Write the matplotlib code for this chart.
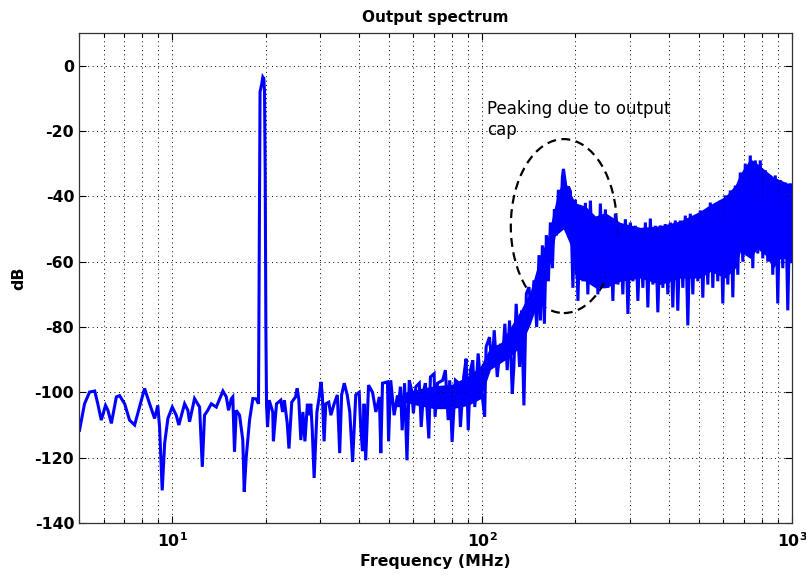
import matplotlib
matplotlib.use("Agg")
import matplotlib.pyplot as plt
from matplotlib.patches import Ellipse

plt.rcParams['font.family'] = ['DejaVu Sans']
plt.rcParams['axes.unicode_minus'] = False

# ---- trace (MHz, dB) ----
# smooth part below the 20 MHz tone
low_mhz = [5.02, 5.21, 5.41, 5.62, 5.75, 5.90, 6.09, 6.20, 6.36, 6.60, 6.76, 7.02,
           7.28, 7.56, 7.84, 8.14, 8.45, 8.77, 8.98, 9.10, 9.28, 9.45, 9.68, 10.0,
           10.30, 10.50, 10.96, 11.23, 11.37, 11.80, 12.25, 12.50, 12.71, 13.02, 13.36,
           13.87, 14.57, 14.94, 15.19, 15.50, 15.68, 15.88, 16.09, 16.49, 16.89, 17.07,
           17.33, 17.76, 18.20, 18.66, 18.98]
low_db = [-111.6, -103.5, -99.9, -99.6, -103.5, -108.5, -104, -105.5, -109.5, -101.4,
          -101, -103.5, -108.5, -110, -104.5, -98.8, -103.5, -108, -104, -110.6, -130,
          -115.6, -108, -104.5, -107, -110, -103.5, -105.5, -109, -101.9, -104.5, -122.8,
          -107, -105.5, -103.5, -104.5, -99.6, -101.4, -105.5, -102, -101.4, -118.2,
          -105.5, -107, -114.6, -130.4, -119.7, -108.5, -101.9, -102, -103.5]

# the tone at 20 MHz
tone_mhz = [19.15, 19.2, 19.45, 19.6, 19.75, 19.85, 19.95, 20.05, 20.15]
tone_db = [-33, -8, -5.5, -3.5, -4, -8, -33, -80, -104]

# noisy floor and rise up to the peaking
mid_mhz = [20.30, 20.55, 21.1, 21.2, 21.7, 22.4, 22.7, 23.0, 23.5, 23.8, 24.3, 25.0,
           25.3, 25.6, 26.0, 26.4, 26.8, 27.3, 27.6, 28.0, 28.3, 28.7, 29.3, 29.8, 30.2,
           30.5, 30.9, 31.3, 32.0, 32.5, 33.3, 34.1, 34.7, 35.2, 35.9, 36.7, 37.4, 38.2,
           39.1, 40.1, 40.6, 41.1, 41.6, 42.1, 43.0, 44.3, 45.4, 46.6, 47.1, 47.7, 49.5,
           49.9, 50.7, 52.0, 53.3, 53.6, 54.5, 55.2, 56.2, 57.2, 58.2, 59.3, 60.0, 61.1,
           62.7, 63.6, 64.7, 65.6, 67.3, 68.1, 70.0, 70.5, 71.8, 74.6, 76.1, 77.7, 78.6,
           80.0, 82.0, 84.1, 85.1, 87.2, 88.8, 90.2, 91.7, 93.3, 94.7, 97.1, 98.7, 100.4,
           101.9, 103.0, 105.6, 107.8, 109.4, 111.9, 114.6, 116.6, 118.4, 120.5, 122.6,
           125.1, 126.6, 128.8, 132.1, 134.1, 136.4, 138.9, 141.6, 144.5, 147.0, 150.0,
           152.6, 154.2, 156.5, 158.8, 161.2, 163.6, 166.1, 168.6, 171.1, 173.7, 176.3,
           178.9, 181.6, 183.0, 185.7, 187.1, 189.9]
mid_db = [-110.6, -102.4, -106, -115, -103.5, -102.4, -106, -102.4, -109.5, -117.2,
          -103, -101.4, -98.8, -102, -114.6, -106, -115, -103.5, -107, -103.5, -111.6,
          -126.2, -106, -101.4, -96.8, -100.8, -115, -103.5, -103, -107, -103.5, -100.8,
          -118.6, -100.8, -97.2, -100.8, -106, -121.3, -100.8, -100, -111, -118, -103.5,
          -120.8, -97.8, -100, -106, -101.4, -118.6, -97.2, -96.8, -115, -96.3, -107,
          -101, -104.5, -98.3, -111.6, -97.2, -120.8, -96.3, -99.6, -106.4, -98.3, -97.2,
          -110.6, -99.6, -97.2, -114.1, -95.3, -94.3, -107.5, -97.2, -96.3, -93.2, -108.5,
          -96.3, -115.2, -96.3, -97.2, -110.6, -95.3, -89.7, -111.6, -93.2, -90.2, -104.5,
          -88.1, -96.3, -102.4, -107.5, -86.1, -83.1, -92.2, -81, -95.3, -85.1, -89.2, -79,
          -93.2, -78, -100.4, -92.2, -72.9, -92.2, -74.9, -104, -69.8, -67.8, -75.9, -65.7,
          -80, -58, -78, -55, -79, -52, -66, -48, -62, -44, -52, -38, -50, -34, -31.6,
          -36, -50, -37]

# dense part above 190 MHz: top and bottom strokes alternate
hi_mhz = [192.7, 200.0, 207.6, 215.4, 223.6, 232.0, 240.8, 249.9, 259.3, 269.2, 279.3,
          290.0, 300.9, 312.3, 324.1, 336.4, 349.1, 362.3, 376.0, 390.2, 404.9, 420.2,
          436.2, 452.7, 469.8, 487.6, 506.0, 525.2, 545.1, 565.6, 587.1, 609.3, 632.4,
          656.3, 681.1, 706.9, 733.6, 761.3, 790.1, 820.1, 851.1, 883.3, 916.7, 951.4, 987.4]
hi_db = [-38.5, -41, -43.4, -42, -41.3, -47, -42.2, -44, -46.5, -45.3, -48.3, -47, -48,
         -49, -50.4, -48, -46.8, -49, -48.9, -48.5, -48, -47.4, -47.4, -45.9, -45.3, -46,
         -44.3, -44.5, -41.9, -42.5, -41.3, -39.7, -38.2, -36.7, -32.7, -30, -27.5, -29,
         -29, -32, -33.6, -33.6, -35, -35.8, -36.1]
lo_mhz = [196.3, 203.8, 211.5, 219.4, 227.8, 236.4, 245.3, 254.6, 264.2, 274.3, 284.5,
          295.5, 306.6, 318.2, 330.2, 342.7, 355.7, 369.1, 383.1, 397.5, 412.5, 428.1,
          444.4, 461.2, 478.6, 496.8, 515.5, 535.1, 555.3, 576.2, 598.1, 620.8, 644.3,
          668.6, 693.9, 720.2, 747.4, 775.6, 805.0, 835.5, 867.1, 899.9, 933.9, 969.3, 994.8]
lo_db = [-68, -72, -66, -70, -65, -70, -66, -68, -72, -67, -70, -76, -66, -72, -68, -74,
         -67, -75.5, -68, -70, -74, -75, -68, -79.5, -70, -66, -71, -67, -68, -66, -72.8,
         -67, -70.9, -64, -60, -58, -62, -57.5, -59, -60, -64, -72.8, -62, -74.9, -60]

# solid core of the noise band
band_mhz = [56.0, 62.0, 70.0, 80.0, 90.0, 98.7, 106.4, 114.6, 123.4, 132.9, 143.2,
            154.2, 162.4, 172.4, 183.0, 192.7, 200.0, 215.4, 232.0, 249.9, 279.3, 324.1,
            376.0, 436.2, 506.0, 545.1, 609.3, 656.3, 681.1, 733.6, 773.0, 820.1, 870.0,
            916.7, 1000.0]
band_hi_db = [-100, -99, -98, -97.5, -95, -92, -86, -85, -80, -75, -69, -58, -53, -42,
              -34, -39, -42, -43, -46, -45, -48, -49.5, -49, -47.5, -44.5, -42.5, -40,
              -36.5, -33, -28.5, -30, -32, -34, -35, -36.5]
band_lo_db = [-103, -104, -105, -105, -104, -102, -93, -91, -89, -86, -79, -70, -64,
              -52, -50, -55, -65, -66, -68, -68, -66, -65, -67, -65, -65, -63, -65, -62,
              -57, -59, -56, -58, -62, -59, -59]

x_ticks = [10, 100, 1000]
x_tick_labels = [r'$\mathbf{10^{1}}$', r'$\mathbf{10^{2}}$', r'$\mathbf{10^{3}}$']
y_ticks = [-140, -120, -100, -80, -60, -40, -20, 0]

dense_mhz = []
dense_db = []
for i in range(len(hi_mhz)):
    dense_mhz += [hi_mhz[i], lo_mhz[i]]
    dense_db += [hi_db[i], lo_db[i]]

freq_mhz = low_mhz + tone_mhz + mid_mhz + dense_mhz
level_db = low_db + tone_db + mid_db + dense_db

fig = plt.figure(figsize=(8.06, 5.75), dpi=100)
ax = fig.add_axes([0.098, 0.0904, 0.8846, 0.8522])

blue = (0, 0, 1)
ax.fill_between(band_mhz, band_lo_db, band_hi_db, color=blue, linewidth=0)
ax.plot(freq_mhz, level_db, color=blue, linewidth=2.2, solid_joinstyle='miter')

ax.set_xscale('log')
ax.set_xlim(5, 1000)
ax.set_ylim(-140, 10)
ax.set_xticks(x_ticks)
ax.set_xticklabels(x_tick_labels)
ax.set_yticks(y_ticks)
ax.set_yticklabels([str(v) for v in y_ticks])

ax.grid(True, which='major', color='k', linestyle=(0, (1, 3.5)), linewidth=0.7)
ax.grid(True, which='minor', axis='x', color='k', linestyle=(0, (1, 3.5)), linewidth=0.7)
ax.tick_params(which='both', direction='in', top=True, right=True,
               labelsize=11.3, colors='k')
ax.tick_params(which='major', length=5, width=0.8)
ax.tick_params(axis='x', which='major', pad=6)
ax.tick_params(which='minor', length=3, width=0.8)
for lab in ax.get_yticklabels():
    lab.set_fontweight('bold')
for sp in ax.spines.values():
    sp.set_linewidth(0.9)
    sp.set_color('#333333')

ax.set_title('Output spectrum', fontsize=11, fontweight='bold', pad=8)
ax.set_xlabel('Frequency (MHz)', fontsize=11.3, fontweight='bold', labelpad=3)
ax.set_ylabel('dB', fontsize=11.3, fontweight='bold', labelpad=6)

# annotation around the peaking
ax.add_patch(Ellipse((0.680, 0.606), 0.1487, 0.355, transform=ax.transAxes,
                     fill=False, edgecolor='k', linewidth=1.6,
                     linestyle=(0, (4, 2.5))))
ax.text(104, -10.5, 'Peaking due to output\ncap', fontsize=12, va='top', ha='left')

fig.savefig('out.png', dpi=100)
